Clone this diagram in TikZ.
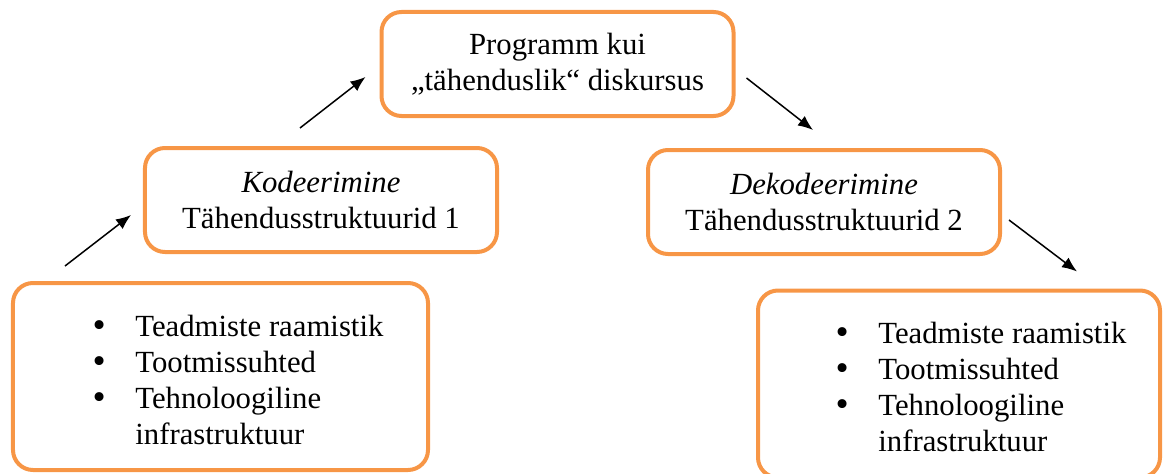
\documentclass[tikz,border=0pt]{standalone}
\usepackage{fontspec}
\setmainfont{Liberation Serif}
\newfontfamily\bulletfont{DejaVu Sans}
\usepackage{xcolor}
\usepackage{tikz}
\usetikzlibrary{arrows.meta}
\definecolor{boxorange}{HTML}{F79646}
\tikzset{
  box/.style={rectangle, draw=boxorange, line width=0.8mm, rounded corners=4mm, minimum width=70.4mm, minimum height=20.8mm, align=center, font=\fontsize{17.5}{20.5}\selectfont},
  listbox/.style={box, minimum width=83mm, minimum height=37.4mm},
  listtext/.style={anchor=west, inner sep=0pt, font=\fontsize{17.5}{20.5}\selectfont},
  arrow/.style={-{Latex[length=3mm, width=2.4mm]}, line width=0.3mm},
}
\newcommand{\bulletitem}{\makebox[9mm][l]{\bulletfont •}}

\begin{document}
\begin{tikzpicture}[x=0.2mm, y=-0.2mm]
    \useasboundingbox (0,0) rectangle (1163,474);
    \node[box] (prog) at (557.5,64) {Programm kui\\„tähenduslik“ diskursus};
    \node[box] (kod) at (321,200) {\textit{Kodeerimine}\\Tähendusstruktuurid 1};
    \node[box] (dek) at (824,202) {\textit{Dekodeerimine}\\Tähendusstruktuurid 2};
    \node[listbox] (enc) at (220.5,376.5) {};
    \node[listbox, minimum width=80.4mm] (dec) at (959,384) {};
    \node[listtext] (enclist) at ([shift={(79,7)}]enc.west) {\begin{tabular}{@{}l@{}l@{}}
      \bulletitem & Teadmiste raamistik\\
      \bulletitem & Tootmissuhted\\
      \bulletitem & Tehnoloogiline\\
      & infrastruktuur
    \end{tabular}};
    \node[listtext] (declist) at ([shift={(77,6)}]dec.west) {\begin{tabular}{@{}l@{}l@{}}
      \bulletitem & Teadmiste raamistik\\
      \bulletitem & Tootmissuhted\\
      \bulletitem & Tehnoloogiline\\
      & infrastruktuur
    \end{tabular}};
    \draw[arrow] ([shift={(54,-15)}]enc.north west) -- ([shift={(-12,15)}]kod.west);
    \draw[arrow] ([shift={(-21,-18)}]kod.north) -- ([shift={(-14,13)}]prog.west);
    \draw[arrow] ([shift={(11,14)}]prog.east) -- ([shift={(-11,-18)}]dek.north);
    \draw[arrow] ([shift={(7,18)}]dek.east) -- ([shift={(-85,-17)}]dec.north east);
  \end{tikzpicture}
\end{document}
